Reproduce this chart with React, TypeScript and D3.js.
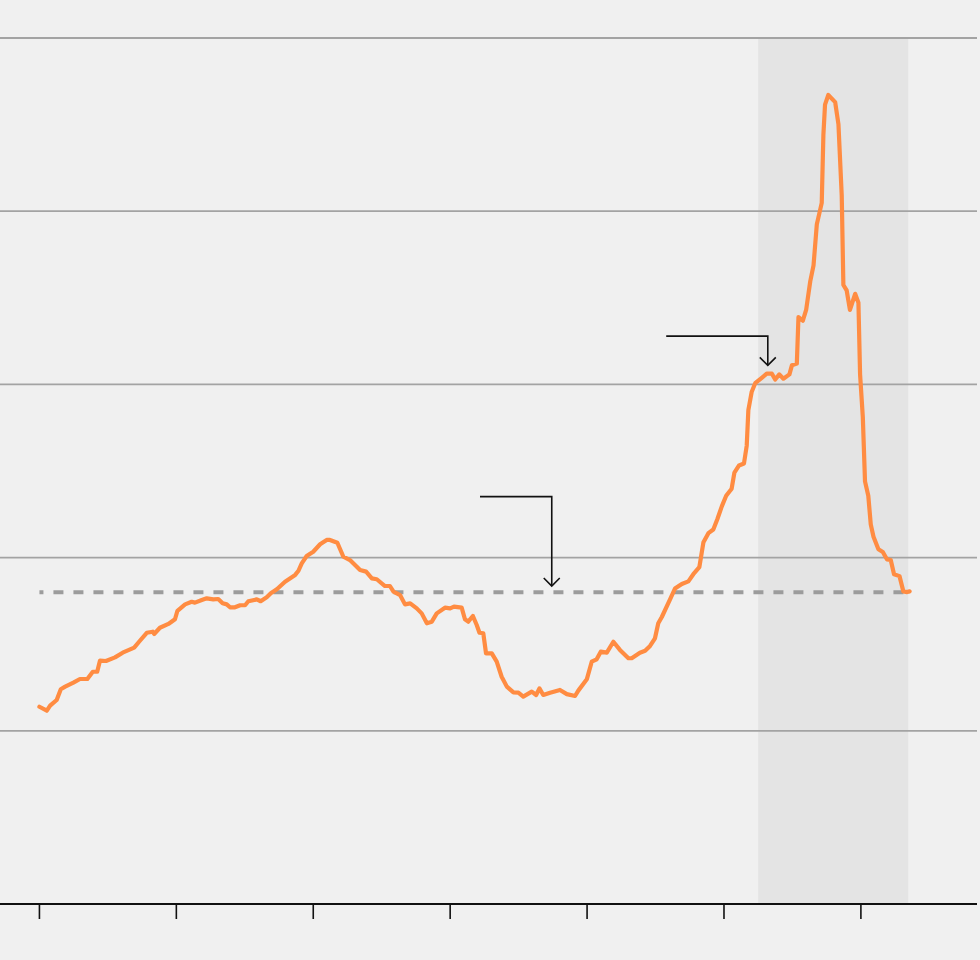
import {default as React} from "react";
import * as d3 from "d3";

// series (x in years, y in chart units)
const years: number[] = [
    1990.0, 1990.27, 1990.39, 1990.63, 1990.78, 1990.94, 1991.24, 1991.48, 1991.75, 1991.95,
    1992.11, 1992.21, 1992.43, 1992.76, 1993.04, 1993.46, 1993.67, 1993.92, 1994.14, 1994.19,
    1994.40, 1994.71, 1994.95, 1995.04, 1995.32, 1995.56, 1995.68, 1995.93, 1996.11, 1996.35,
    1996.53, 1996.69, 1996.84, 1996.96, 1997.14, 1997.33, 1997.51, 1997.63, 1997.94, 1998.08,
    1998.30, 1998.45, 1998.67, 1998.97, 1999.34, 1999.46, 1999.58, 1999.76, 2000.00, 2000.25,
    2000.49, 2000.61, 2000.88, 2001.10, 2001.34, 2001.71, 2001.93, 2002.14, 2002.32, 2002.62,
    2002.80, 2002.93, 2003.17, 2003.35, 2003.54, 2003.78, 2003.96, 2004.15, 2004.33, 2004.51,
    2004.81, 2005.00, 2005.14, 2005.42, 2005.54, 2005.66, 2005.83, 2005.97, 2006.07, 2006.21,
    2006.31, 2006.52, 2006.70, 2006.88, 2007.07, 2007.31, 2007.49, 2007.67, 2007.98, 2008.14,
    2008.26, 2008.40, 2008.65, 2009.01, 2009.26, 2009.56, 2009.68, 2009.99, 2010.17, 2010.35,
    2010.50, 2010.72, 2010.96, 2011.20, 2011.51, 2011.63, 2011.93, 2012.12, 2012.30, 2012.48,
    2012.60, 2012.73, 2013.03, 2013.21, 2013.46, 2013.70, 2013.88, 2014.10, 2014.25, 2014.43,
    2014.61, 2014.76, 2014.92, 2015.08, 2015.28, 2015.38, 2015.55, 2015.73, 2015.83, 2015.89,
    2016.01, 2016.14, 2016.38, 2016.56, 2016.75, 2016.87, 2017.02, 2017.17, 2017.39, 2017.48,
    2017.66, 2017.72, 2017.88, 2018.00, 2018.15, 2018.27, 2018.39, 2018.57, 2018.63, 2018.69,
    2018.81, 2019.06, 2019.18, 2019.30, 2019.36, 2019.48, 2019.60, 2019.79, 2019.91, 2019.97,
    2020.07, 2020.15, 2020.27, 2020.36, 2020.46, 2020.64, 2020.80, 2020.95, 2021.09, 2021.21,
    2021.41, 2021.55, 2021.69, 2021.78
];

const values: number[] = [
    1.139, 1.116, 1.145, 1.178, 1.240, 1.255, 1.278, 1.299, 1.299, 1.341,
    1.341, 1.405, 1.403, 1.424, 1.451, 1.480, 1.520, 1.566, 1.572, 1.559,
    1.595, 1.617, 1.644, 1.693, 1.730, 1.745, 1.740, 1.755, 1.765, 1.759,
    1.761, 1.736, 1.730, 1.713, 1.713, 1.725, 1.725, 1.748, 1.759, 1.748,
    1.771, 1.794, 1.817, 1.861, 1.900, 1.924, 1.967, 2.009, 2.034, 2.077,
    2.102, 2.102, 2.086, 2.005, 1.986, 1.928, 1.919, 1.880, 1.875, 1.836,
    1.836, 1.803, 1.784, 1.730, 1.736, 1.707, 1.678, 1.621, 1.630, 1.678,
    1.711, 1.707, 1.717, 1.711, 1.644, 1.630, 1.663, 1.611, 1.566, 1.563,
    1.447, 1.447, 1.399, 1.312, 1.255, 1.222, 1.220, 1.197, 1.226, 1.207,
    1.245, 1.207, 1.220, 1.236, 1.212, 1.201, 1.232, 1.297, 1.399, 1.413,
    1.457, 1.451, 1.514, 1.467, 1.419, 1.419, 1.451, 1.462, 1.490, 1.534,
    1.621, 1.657, 1.759, 1.821, 1.848, 1.863, 1.904, 1.945, 2.089, 2.141,
    2.162, 2.223, 2.296, 2.357, 2.398, 2.491, 2.532, 2.543, 2.646, 2.852,
    2.956, 3.007, 3.038, 3.062, 3.062, 3.028, 3.058, 3.033, 3.058, 3.110,
    3.120, 3.389, 3.368, 3.430, 3.595, 3.687, 3.924, 4.048, 4.440, 4.615,
    4.671, 4.630, 4.502, 4.090, 3.574, 3.543, 3.430, 3.523, 3.471, 3.058,
    2.811, 2.440, 2.357, 2.192, 2.120, 2.048, 2.032, 1.990, 1.986, 1.904,
    1.893, 1.805, 1.801, 1.805
];

const xTicks = [1990, 1995, 2000, 2005, 2010, 2015, 2020];
const yGrid = [1, 2, 3, 4, 5];
const average = 1.80;
const shadedPeriod = [2016.25, 2021.73];

// annotation leaders: [start x, corner x, leader y, tip y]
const arrows: [number, number, number, number][] = [
    [2006.09, 2008.71, 2.352, 1.836],
    [2012.89, 2016.60, 3.279, 3.110],
];

const width = 980;
const height = 960;
const axisY = 904;

export default function App() {

    const x = d3.scaleLinear()
        .domain([1988.56, 2024.24])
        .range([0, 977]);

    const y = d3.scaleLinear()
        .domain([0, 5])
        .range([axisY, 38]);

    const data: [number, number][] = years.map((yr, i) => [yr, values[i]]);

    const line = d3.line<[number, number]>()
        .x(d => x(d[0]))
        .y(d => y(d[1]));

    return (
        <svg
            width={width}
            height={height}
            style={{position: "absolute", left: 0, top: 0, backgroundColor: "#f0f0f0"}}
        >
            <rect
                x={x(shadedPeriod[0])}
                y={y(5)}
                width={x(shadedPeriod[1]) - x(shadedPeriod[0])}
                height={axisY - y(5)}
                fill="#e4e4e4"
            />
            {yGrid.map(v => (
                <line key={v} x1={0} x2={977} y1={y(v)} y2={y(v)} stroke="#a3a3a3" strokeWidth={1.8}/>
            ))}
            <line
                x1={x(years[0])}
                x2={x(shadedPeriod[1])}
                y1={y(average)}
                y2={y(average)}
                stroke="#9c9c9c"
                strokeWidth={4}
                strokeDasharray="10,10"
                strokeDashoffset={6}
            />
            <path
                d={line(data) || ""}
                fill="none"
                stroke="#ff8c42"
                strokeWidth={4.2}
                strokeLinejoin="round"
                strokeLinecap="round"
            />
            {arrows.map((a, i) => {
                const cx = x(a[1]);
                const ty = y(a[3]);
                return (
                    <g key={i} fill="none" stroke="#111" strokeWidth={1.6}>
                        <path d={`M${x(a[0])},${y(a[2])}H${cx}V${ty}`}/>
                        <path d={`M${cx - 8},${ty - 8}L${cx},${ty}L${cx + 8},${ty - 8}`}/>
                    </g>
                );
            })}
            <line x1={0} x2={977} y1={axisY} y2={axisY} stroke="#111" strokeWidth={2}/>
            {xTicks.map(t => (
                <line key={t} x1={x(t)} x2={x(t)} y1={axisY} y2={axisY + 15} stroke="#111" strokeWidth={1.6}/>
            ))}
        </svg>
    );
}
